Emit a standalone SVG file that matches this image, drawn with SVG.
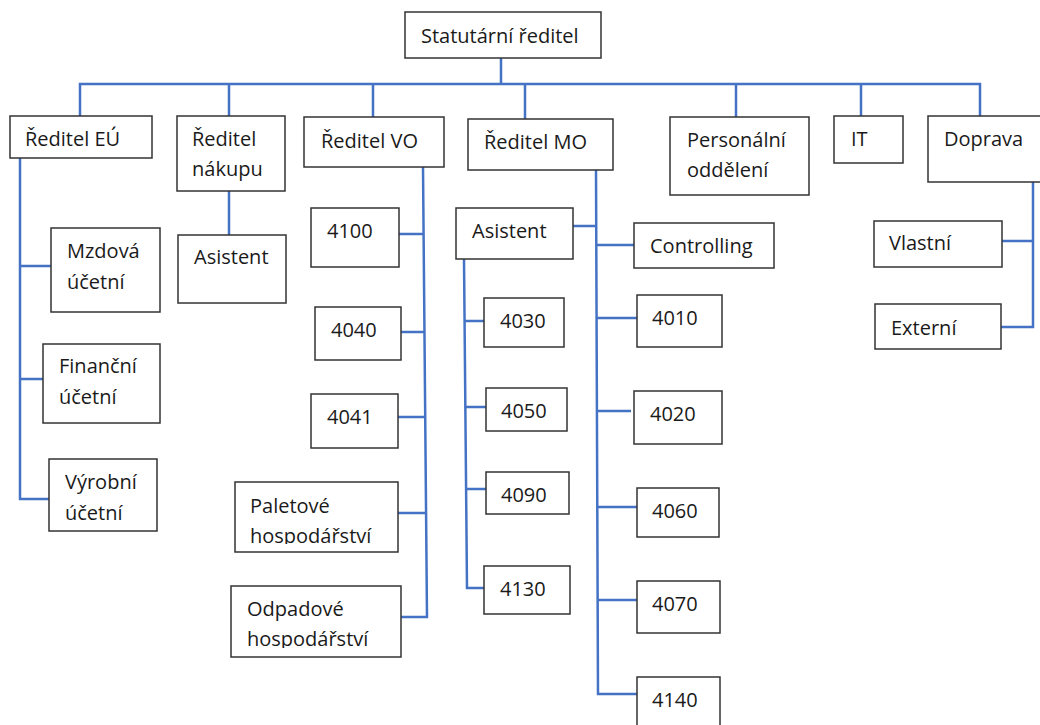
<svg xmlns="http://www.w3.org/2000/svg" width="1040" height="725" viewBox="0 0 1040 725">
<style>
.b{fill:#fff;stroke:#333;stroke-width:1.5}
.t{font-family:"Open Sans","Noto Sans",sans-serif;font-size:20px;fill:#1a1a1a}
.c{fill:none;stroke:#4472C4;stroke-width:2.5}
</style>
<defs>
<clipPath id="cp1"><rect x="236" y="483" width="161" height="61"/></clipPath>
<clipPath id="cp2"><rect x="232" y="587" width="168" height="61"/></clipPath>
</defs>
<rect width="1040" height="725" fill="#fff"/>
<g id="connectors">
<path class="c" d="M501 58V84M80 116V84H980V116M229 84V116M373 84V117M525 84V119M736 84V117M861 84V116"/>
<path class="c" d="M20 158V499H49M20 266H51M20 379H43"/>
<path class="c" d="M229 191V235"/>
<path class="c" d="M423 167L427 617H401M399 234H423M401 332H424M398 417H425M398 513H426"/>
<path class="c" d="M596 170L598 694H637M573 226H596M596 245H634M596 318H637M597 411H631M597 507H637M598 600H637"/>
<path class="c" d="M464 259L467 588H484M464 321H484M465 407H486M466 489H486"/>
<path class="c" d="M1033 182V327H1001M1002 241H1033"/>
</g>
<g id="n-stat"><rect class="b" x="405" y="12" width="196" height="46"/><text class="t" x="421" y="43">Statutární ředitel</text></g>
<g id="n-eu"><rect class="b" x="10" y="116" width="142" height="42"/><text class="t" x="25" y="146">Ředitel EÚ</text></g>
<g id="n-nakup"><rect class="b" x="177" y="116" width="108" height="75"/><text class="t" x="192" y="146">Ředitel</text><text class="t" x="192" y="176">nákupu</text></g>
<g id="n-vo"><rect class="b" x="304" y="117" width="140" height="50"/><text class="t" x="321" y="148">Ředitel VO</text></g>
<g id="n-mo"><rect class="b" x="468" y="119" width="145" height="51"/><text class="t" x="484" y="149">Ředitel MO</text></g>
<g id="n-pers"><rect class="b" x="670" y="117" width="139" height="78"/><text class="t" x="687" y="147">Personální</text><text class="t" x="687" y="177">oddělení</text></g>
<g id="n-it"><rect class="b" x="834" y="116" width="69" height="47"/><text class="t" x="851" y="146">IT</text></g>
<g id="n-doprava"><rect class="b" x="928" y="116" width="120" height="66"/><text class="t" x="944" y="146">Doprava</text></g>
<g id="n-mzd"><rect class="b" x="51" y="228" width="109" height="84"/><text class="t" x="67" y="258">Mzdová</text><text class="t" x="67" y="289">účetní</text></g>
<g id="n-fin"><rect class="b" x="43" y="344" width="117" height="79"/><text class="t" x="59" y="373">Finanční</text><text class="t" x="59" y="404">účetní</text></g>
<g id="n-vyr"><rect class="b" x="49" y="459" width="108" height="72"/><text class="t" x="65" y="489">Výrobní</text><text class="t" x="65" y="520">účetní</text></g>
<g id="n-asist-n"><rect class="b" x="178" y="235" width="108" height="68"/><text class="t" x="194" y="264">Asistent</text></g>
<g id="n-4100"><rect class="b" x="311" y="208" width="88" height="59"/><text class="t" x="327" y="238">4100</text></g>
<g id="n-4040"><rect class="b" x="315" y="307" width="86" height="53"/><text class="t" x="331" y="337">4040</text></g>
<g id="n-4041"><rect class="b" x="311" y="394" width="87" height="54"/><text class="t" x="327" y="424">4041</text></g>
<g id="n-palet"><rect class="b" x="235" y="482" width="163" height="70"/><g clip-path="url(#cp1)"><text class="t" x="250" y="513">Paletové</text><text class="t" x="250" y="543">hospodářství</text></g></g>
<g id="n-odpad"><rect class="b" x="231" y="586" width="170" height="71"/><g clip-path="url(#cp2)"><text class="t" x="247" y="616">Odpadové</text><text class="t" x="247" y="646">hospodářství</text></g></g>
<g id="n-asist-mo"><rect class="b" x="456" y="208" width="117" height="51"/><text class="t" x="472" y="238">Asistent</text></g>
<g id="n-4030"><rect class="b" x="484" y="298" width="80" height="49"/><text class="t" x="500" y="328">4030</text></g>
<g id="n-4050"><rect class="b" x="486" y="388" width="81" height="43"/><text class="t" x="501" y="418">4050</text></g>
<g id="n-4090"><rect class="b" x="486" y="472" width="83" height="42"/><text class="t" x="501" y="502">4090</text></g>
<g id="n-4130"><rect class="b" x="484" y="566" width="86" height="48"/><text class="t" x="500" y="596">4130</text></g>
<g id="n-contr"><rect class="b" x="634" y="223" width="140" height="45"/><text class="t" x="650" y="253">Controlling</text></g>
<g id="n-4010"><rect class="b" x="637" y="295" width="85" height="52"/><text class="t" x="652" y="325">4010</text></g>
<g id="n-4020"><rect class="b" x="634" y="391" width="88" height="53"/><text class="t" x="650" y="421">4020</text></g>
<g id="n-4060"><rect class="b" x="637" y="488" width="82" height="49"/><text class="t" x="652" y="518">4060</text></g>
<g id="n-4070"><rect class="b" x="637" y="581" width="83" height="52"/><text class="t" x="652" y="611">4070</text></g>
<g id="n-4140"><rect class="b" x="637" y="677" width="83" height="60"/><text class="t" x="652" y="707">4140</text></g>
<g id="n-vlast"><rect class="b" x="874" y="221" width="128" height="46"/><text class="t" x="889" y="250">Vlastní</text></g>
<g id="n-ext"><rect class="b" x="875" y="304" width="126" height="45"/><text class="t" x="891" y="335">Externí</text></g>
</svg>
